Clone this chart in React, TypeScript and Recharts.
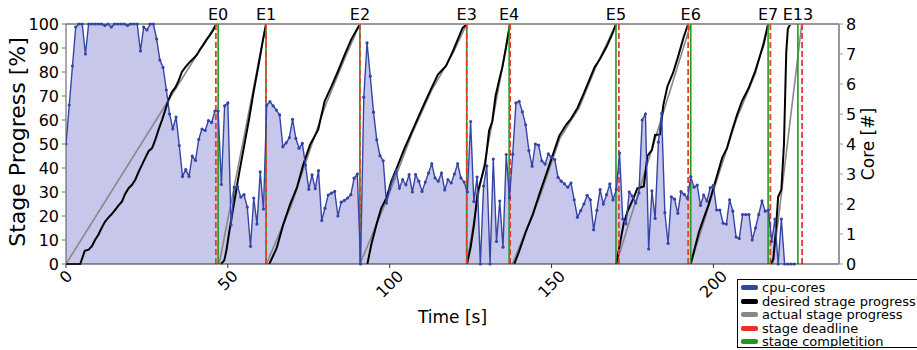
import React from "react";
import { ComposedChart, Line, Area, XAxis, YAxis, ReferenceLine } from "recharts";

// cpu cores in use, one sample per second from t = 0
const cpuCores = [
  4.0, 5.3, 6.6, 7.9, 8, 8, 7.0, 8, 8, 8,
  8, 8, 7.95, 8, 7.9, 8, 8, 8, 8, 7.95,
  8, 8, 8, 7.1, 7.9, 7.8, 8, 8, 7.5, 6.8,
  6.55, 5.8, 5.0, 4.5, 4.9, 3.95, 2.92, 3.15, 2.92, 3.6,
  3.45, 4.15, 4.5, 4.45, 4.78, 4.72, 5.1, 5.1, 2.65, 5.27,
  5.37, 1.3, 2.56, 2.58, 2.23, 2.31, 1.9, 0.59, 2.2, 1.33,
  3.07, 1.83, 5.3, 5.41, 5.27, 5.13, 4.97, 3.91, 4.04, 4.21,
  4.82, 4.19, 3.86, 4.02, 3.3, 2.49, 2.97, 2.51, 3.11, 1.45,
  1.86, 2.3, 2.36, 2.42, 1.6, 2.06, 2.12, 2.2, 2.31, 2.86,
  3.0, 0, 5.56, 7.37, 6.26, 5.06, 4.14, 3.61, 3.44, 2.03,
  2.5, 2.84, 3.11, 2.53, 2.81, 2.64, 2.98, 2.4, 2.98, 2.76,
  2.42, 2.73, 3.03, 3.34, 2.87, 2.76, 3.03, 2.47, 2.81, 2.7,
  3.0, 3.34, 2.87, 2.73, 2.4, 4.75, 2.08, 2.9, 0, 2.6,
  3.27, 0, 3.5, 0.75, 2.1, 0.56, 3.65, 2.2, 3.66, 5.37,
  5.42, 5.07, 4.64, 3.78, 3.26, 4.0, 3.96, 3.44, 3.33, 3.67,
  3.56, 3.48, 2.89, 2.76, 2.67, 2.56, 2.7, 2.14, 1.56, 1.78,
  2.0, 2.29, 2.14, 1.14, 1.79, 2.48, 2.0, 2.31, 2.67, 2.14,
  2.48, 3.7, 1.5, 1.34, 2.4, 2.26, 2.03, 2.37, 4.8, 5.0,
  0.5, 2.44, 1.52, 4.06, 5.02, 1.71, 0.69, 2.24, 2.16, 1.69,
  2.41, 2.32, 2.19, 2.91, 2.56, 2.63, 1.95, 2.3, 2.1, 2.54,
  2.62, 1.8, 1.8, 1.36, 1.33, 2.14, 1.76, 0.9, 0.85, 1.65,
  1.65, 1.65, 0.8, 1.2, 1.65, 2.1, 1.76, 1.8, 0.75, 1.5,
  0, 1.5, 0, 0, 0, 0,
];

const stageNames = ["E0", "E1", "E2", "E3", "E4", "E5", "E6", "E7", "E13"];
const stageDeadline = [46.3, 61.8, 90.8, 123.8, 137.2, 170.8, 192.2, 217.6, 227.4];
const stageCompletion = [47.0, 61.8, 90.8, 123.8, 136.9, 169.9, 193.0, 216.9, 226.1];

// [time s, progress %]
const desired0 = [
  [0, 0], [4.4, 0], [5.8, 5.5], [7, 6], [8, 7.4], [9, 10.1], [10, 12.2], [11, 15],
  [12, 17.5], [13, 19.2], [14, 20.6], [15, 22.2], [16, 24], [17.3, 26.1], [18.3, 29.3],
  [19.4, 31.7], [20.4, 33], [21.4, 35.1], [22.5, 38.6], [23.5, 41.4], [24.5, 44.2],
  [25.5, 47], [26.6, 48.3], [27.6, 51.8], [28.6, 56], [29.7, 60.1], [30.7, 64.3],
  [31.7, 68.5], [32.7, 71.7], [33.8, 73.6], [34.8, 76.4], [35.8, 80], [36.9, 82],
  [38, 83.8], [39.3, 85.5], [40.4, 87.1], [41.4, 89.4], [42.4, 91.3], [43.5, 93.6],
  [44.5, 95.4], [45.5, 97.5], [46.4, 100],
];
const desired1 = [
  [47.9, 0], [48.9, 1.5], [49.6, 6], [50.5, 14], [52, 26], [53.5, 38], [55, 49],
  [56.5, 60], [58, 72], [59.5, 83], [60.8, 93], [61.8, 100],
];
const desired2 = [
  [62.8, 0], [65.1, 6.7], [67.1, 16.4], [69.2, 24.7], [71.3, 31.7], [73.3, 41.4],
  [75.4, 49.7], [77.9, 56], [78.9, 62], [79.9, 67.8], [82, 74], [84, 80.3],
  [86.1, 87.2], [88.1, 93.5], [90.8, 100],
];
const desired3 = [
  [93.1, 0], [94.3, 8], [95.9, 16.4], [97.4, 23.3], [99, 27.5], [100.5, 34.4],
  [102.6, 41.4], [104.6, 48.3], [106.7, 54.6], [108.7, 60.8], [110.8, 67.1],
  [112.9, 73.3], [114.9, 78.9], [117.4, 82.5], [119.5, 88.6], [121, 93.5],
  [122.5, 98.3], [123.8, 100],
];
const desired4 = [
  [123.9, 0], [125, 7], [126, 16], [127.2, 30], [128.4, 36], [129.5, 41.5],
  [130.7, 55.5], [131.7, 59.5], [132.7, 70], [133.8, 76.5], [134.8, 82],
  [135.9, 90], [136.7, 96.5], [137.2, 100],
];
const desired5 = [
  [138.5, 0], [140, 5.3], [142.1, 13.6], [144.2, 20.6], [146.2, 28.9], [148.3, 37.2],
  [150.4, 45.5], [152.4, 53.5], [154.5, 58], [156, 60.5], [158, 65], [160, 71.2],
  [162, 77.8], [163.3, 82], [165, 85.5], [167, 90.5], [168.8, 96], [169.9, 100],
];
const desired6 = [
  [170, 0], [171.2, 9], [172.3, 17], [173.5, 22], [175.5, 28], [176.5, 31.5],
  [178.5, 32.3], [179.6, 45], [181, 47.5], [182, 53.8], [183.5, 54], [184.5, 66],
  [185.8, 74], [187.5, 79.5], [189, 86], [190.8, 94.5], [192.2, 100],
];
const desired7 = [
  [193, 0], [194, 5.3], [195.6, 13.6], [197, 19], [198.5, 24.7], [200.6, 34.4],
  [202.7, 44.2], [204.2, 48.3], [205.7, 55.3], [207.3, 62.2], [208.8, 67.8],
  [210.9, 73.3], [212.9, 80.3], [214.5, 87.2], [215.5, 91.4], [216.9, 100],
];
const desired8 = [
  [217.7, 0], [218.5, 2], [219.3, 14], [220, 28], [221, 31], [221.8, 50],
  [222.5, 88], [223, 98], [223.8, 100],
];

const actual0 = [[0, 0], [46.4, 100]];
const actual1 = [[47.3, 0], [61.8, 100]];
const actual2 = [[61.9, 0], [69.5, 24], [75.6, 48.5], [80, 65.5], [86.2, 86], [90.8, 100]];
const actual3 = [[90.8, 0], [99.2, 27], [106.8, 54], [113, 72.5], [119.6, 88], [123.8, 100]];
const actual4 = [[123.8, 0], [127.4, 29], [131, 54], [134, 76], [137.2, 100]];
const actual5 = [[137.9, 0], [146.5, 28.5], [152.6, 52.5], [158.5, 65], [164, 83], [169.9, 100]];
const actual6 = [[170, 0], [193, 100]];
const actual7 = [[193, 0], [200.6, 33], [207.3, 61], [213, 79.5], [216.9, 100]];
const actual8 = [[218.4, 0], [227.3, 100]];

const timeTicks = [0, 50, 100, 150, 200];
const progressTicks = [0, 10, 20, 30, 40, 50, 60, 70, 80, 90, 100];
const coreTicks = [0, 1, 2, 3, 4, 5, 6, 7, 8];

const legendItems = [
  { label: "cpu-cores", color: "#3545a5" },
  { label: "desired strage progress", color: "#000000" },
  { label: "actual stage progress", color: "#888888" },
  { label: "stage deadline", color: "#e8302a" },
  { label: "stage completition", color: "#1f9a1f" },
];

const toPoints = (pts: number[][]) => pts.map(([t, p]) => ({ t, p }));
const cpuData = cpuCores.map((v, i) => ({ t: i, v }));
const desiredData = [desired0, desired1, desired2, desired3, desired4, desired5, desired6, desired7, desired8].map(toPoints);
const actualData = [actual0, actual1, actual2, actual3, actual4, actual5, actual6, actual7, actual8].map(toPoints);

function TimeTick({ x, y, payload }: any) {
  const s = String(payload.value);
  const half = (s.length * 10.2 + 12) * 0.354;
  const cy = y + half - 1;
  return (
    <text x={x} y={cy} textAnchor="middle" dominantBaseline="central" fontSize={16} fill="#000"
      transform={`rotate(-45 ${x} ${cy})`}>
      {s}
    </text>
  );
}

export default function App() {
  return (
    <div style={{ position: "absolute", left: 0, top: 0, width: 917, height: 350, background: "#fff", fontFamily: "DejaVu Sans", fontSize: 16 }}>
      <ComposedChart width={917} height={350} margin={{ top: 24, right: 0, bottom: 0, left: 0 }}>
        <XAxis type="number" dataKey="t" domain={[0, 238.8]} ticks={timeTicks} interval={0}
          allowDataOverflow height={86} tickSize={4} tickMargin={2} tick={<TimeTick />}
          axisLine={{ stroke: "#333" }} tickLine={{ stroke: "#333" }}
          label={{ value: "Time [s]", position: "insideBottom", offset: 27, fontSize: 17, fill: "#000" }} />
        <YAxis yAxisId="left" domain={[0, 100]} ticks={progressTicks} interval={0} width={66}
          tickSize={4} tickMargin={3} tick={{ fill: "#000", fontSize: 16 }}
          axisLine={{ stroke: "#555" }} tickLine={{ stroke: "#777" }}
          label={{
            content: ({ viewBox }: any) => (
              <text x={viewBox.x + 17} y={viewBox.y + viewBox.height / 2 - 2} textAnchor="middle"
                dominantBaseline="central" fontSize={22} fill="#000"
                transform={`rotate(-90 ${viewBox.x + 17} ${viewBox.y + viewBox.height / 2 - 2})`}>
                Stage Progress [%]
              </text>
            ),
          }} />
        <YAxis yAxisId="right" orientation="right" domain={[0, 8]} ticks={coreTicks} interval={0} width={78}
          tickSize={4} tickMargin={3} tick={{ fill: "#000", fontSize: 16 }}
          axisLine={{ stroke: "#999", strokeWidth: 2 }} tickLine={{ stroke: "#999" }}
          label={{
            content: ({ viewBox }: any) => (
              <text x={viewBox.x + 29} y={viewBox.y + viewBox.height / 2} textAnchor="middle"
                dominantBaseline="central" fontSize={17} fill="#000"
                transform={`rotate(-90 ${viewBox.x + 29} ${viewBox.y + viewBox.height / 2})`}>
                Core [#]
              </text>
            ),
          }} />

        <Area yAxisId="right" data={cpuData} dataKey="v" type="linear" stroke="none"
          fill="#c6c7eb" fillOpacity={1} isAnimationActive={false} />

        {actualData.map((d, i) => (
          <Line key={"actual" + i} yAxisId="left" data={d} dataKey="p" type="linear"
            stroke="#888888" strokeWidth={1.6} dot={false} isAnimationActive={false} />
        ))}
        {desiredData.map((d, i) => (
          <Line key={"desired" + i} yAxisId="left" data={d} dataKey="p" type="linear"
            stroke="#000" strokeWidth={2} dot={false} isAnimationActive={false} />
        ))}

        <ReferenceLine yAxisId="left" y={100} stroke="#999" strokeWidth={2} />

        {stageCompletion.map((t, i) => (
          <ReferenceLine key={"c" + i} yAxisId="left" x={t} stroke="#1f9a1f" strokeWidth={1.6}
            label={{ value: stageNames[i], position: "top", offset: 4.5, fontSize: 16, fill: "#000" }} />
        ))}
        {stageDeadline.map((t, i) => (
          <ReferenceLine key={"d" + i} yAxisId="left" x={t} stroke="#f03a30" strokeWidth={1.8}
            strokeDasharray="6 3" />
        ))}

        <Line yAxisId="right" data={cpuData} dataKey="v" type="linear" stroke="#3545a5"
          strokeWidth={1.4} dot={{ r: 1.6, fill: "#3545a5", stroke: "none" }} isAnimationActive={false} />
      </ComposedChart>

      <div style={{ position: "absolute", left: 737, top: 279, width: 182, height: 69, border: "1px solid #000",
        background: "#fff", boxSizing: "border-box", padding: "1px 0 0 3px", fontSize: 13, overflow: "hidden" }}>
        {legendItems.map((it) => (
          <div key={it.label} style={{ display: "flex", alignItems: "center", height: 13.5, whiteSpace: "nowrap", color: "#000" }}>
            <span style={{ display: "inline-block", width: 17, height: 5, background: it.color, marginRight: 4, borderRadius: 2 }} />
            {it.label}
          </div>
        ))}
      </div>
    </div>
  );
}
